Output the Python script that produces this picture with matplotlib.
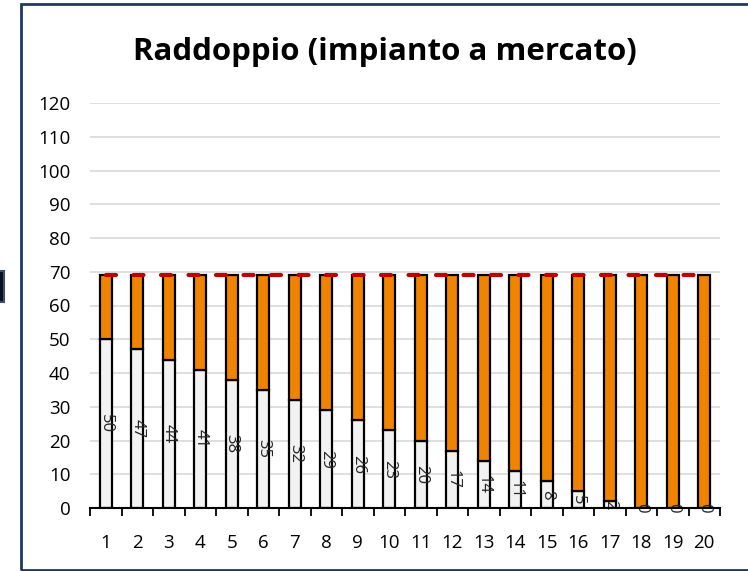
import matplotlib.pyplot as plt
from matplotlib.patches import Rectangle

# dati
anni = list(range(1, 21))
quota_base = [50, 47, 44, 41, 38, 35, 32, 29, 26, 23, 20, 17, 14, 11, 8, 5, 2, 0, 0, 0]
totale = 69
quota_mercato = [totale - v for v in quota_base]
soglia = [69] * len(anni)

plt.rcParams['font.family'] = ['Open Sans', 'DejaVu Sans']

W, H = 748, 571
fig = plt.figure(figsize=(W / 100, H / 100), dpi=100)
ax = fig.add_axes([90 / W, 1 - 508 / H, 630 / W, 405 / H])

grigio = "#f2f2f2"
arancio = "#f08300"

ax.bar(anni, quota_base, width=0.38, color=grigio, edgecolor="black", linewidth=1.6, zorder=3)
ax.bar(anni, quota_mercato, width=0.38, bottom=quota_base, color=arancio,
       edgecolor="black", linewidth=1.6, zorder=3)

ax.plot(anni, soglia, color="#c00000", linewidth=3, dashes=(2.4, 4.2),
        dash_capstyle="round", zorder=4)

for x, v in zip(anni, quota_base):
    ax.text(x, v / 2, str(v), rotation=270, ha="center", va="center",
            fontsize=12, color="#262626", zorder=5)

ax.set_xlim(0.5, 20.5)
ax.set_ylim(0, 120)
ax.set_yticks(range(0, 121, 10))
ax.yaxis.grid(True, color="#d9d9d9", linewidth=1.2, zorder=0)
ax.set_axisbelow(True)

ax.set_xticks([i + 0.5 for i in range(0, 21)], minor=True)
ax.set_xticks(anni)
ax.tick_params(axis="x", which="major", length=0, pad=19, labelsize=13.5)
ax.tick_params(axis="x", which="minor", length=6, width=1.3, direction="out")
ax.tick_params(axis="y", length=0, pad=14, labelsize=13.5)

for s in ["top", "right", "left"]:
    ax.spines[s].set_visible(False)
ax.spines["bottom"].set_linewidth(1.5)
ax.spines["bottom"].set_zorder(6)

fig.text(385 / W, 1 - 52 / H, "Raddoppio (impianto a mercato)", ha="center", va="center",
         fontsize=22.5, fontweight="bold", color="black")

# cornice del grafico
fig.patches.append(Rectangle((21 / W, 1 - 570 / H), 740 / W, 566 / H, transform=fig.transFigure,
                             fill=False, edgecolor="#1f3864", linewidth=2))
fig.patches.append(Rectangle((-6 / W, 1 - 302 / H), 10 / W, 31 / H, transform=fig.transFigure,
                             facecolor="#0a0f1f", edgecolor="#3b5170", linewidth=1.5))

fig.savefig("out.png", dpi=100)
